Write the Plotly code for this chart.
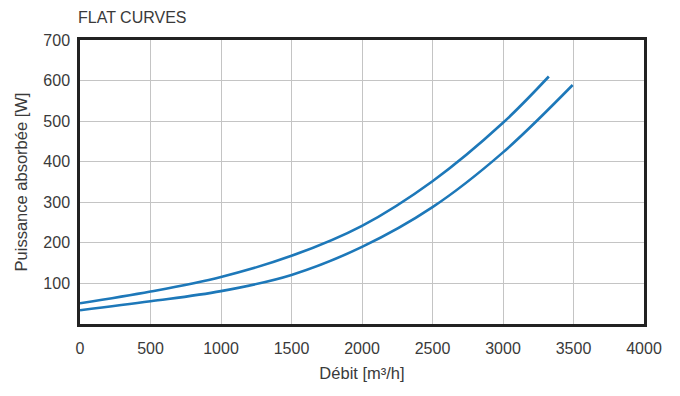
import plotly.graph_objects as go

flow_a = [0, 500, 1000, 1500, 2000, 2500, 3000, 3325]
power_a = [51, 80, 116, 168, 242, 352, 496, 610]
flow_b = [0, 500, 1000, 1500, 2000, 2500, 3000, 3494]
power_b = [34, 56, 81, 121, 190, 288, 423, 589]
x_ticks = [0, 500, 1000, 1500, 2000, 2500, 3000, 3500, 4000]
y_ticks = [100, 200, 300, 400, 500, 600, 700]

color = "#1d78b9"
fig = go.Figure()
for xs, ys in [(flow_a, power_a), (flow_b, power_b)]:
    fig.add_trace(go.Scatter(x=xs, y=ys, mode="lines",
                             line=dict(color=color, width=2.6, shape="spline", smoothing=1.0),
                             showlegend=False, hoverinfo="skip"))

W, H = 672, 388
fig.update_layout(
    width=W, height=H,
    margin=dict(l=69, r=36, t=32, b=72),
    paper_bgcolor="white", plot_bgcolor="white",
    font=dict(family="Liberation Sans, Arial, sans-serif", size=16, color="#3a3a3a"),
    title=dict(text="FLAT CURVES", x=70/W, xanchor="left", y=1-9/H, yanchor="middle",
               font=dict(size=16, color="#3a3a3a")),
)
fig.update_xaxes(range=[0, 4000], tickvals=x_ticks, showgrid=True, gridcolor="#c4c4c4", gridwidth=1,
                 showline=True, linecolor="#222", linewidth=2.5, mirror=True,
                 ticks="", ticklabelstandoff=8, zeroline=False,
                 title=dict(text="Débit [m³/h]", standoff=12, font=dict(size=16.5)))
fig.update_yaxes(range=[0, 700], tickvals=y_ticks, showgrid=True, gridcolor="#c4c4c4", gridwidth=1,
                 showline=True, linecolor="#222", linewidth=2.5, mirror=True,
                 ticks="", ticklabelstandoff=4, zeroline=False,
                 title=dict(text="Puissance absorbée [W]", standoff=12, font=dict(size=16.5)))
fig.write_html("out.html")
